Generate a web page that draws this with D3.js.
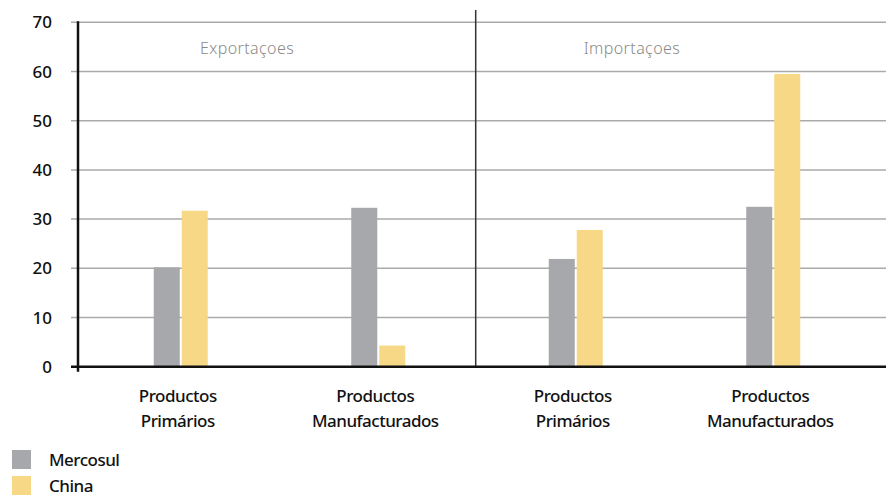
<!DOCTYPE html>
<html>
<head>
<meta charset="utf-8">
<script src="https://cdn.jsdelivr.net/npm/d3@7"></script>
<style>
  html, body { margin: 0; padding: 0; background: #fff; }
  svg { display: block; }
  text { font-family: "Noto Sans", "Open Sans", sans-serif; }
</style>
</head>
<body>
<svg id="chart" width="886" height="496"></svg>
<script>
// Trade composition: Mercosul vs China, exports and imports
const categories = [
  ["Productos", "Primários"],
  ["Productos", "Manufacturados"],
  ["Productos", "Primários"],
  ["Productos", "Manufacturados"]
];
const panels = ["Exportaçoes", "Importaçoes"];
const seriesNames = ["Mercosul", "China"];
const mercosul = [20.2, 32.3, 21.9, 32.5];
const china = [31.7, 4.3, 27.8, 59.5];
const yTicks = [0, 10, 20, 30, 40, 50, 60, 70];
const colors = ["#a7a8ab", "#f6d886"];

const svg = d3.select("#chart");
const axisX = 78, plotRight = 886, yTop = 22.3, yBottom = 366.7;

const y = d3.scaleLinear().domain([0, 70]).range([yBottom, yTop]);
const x = d3.scaleBand().domain(d3.range(categories.length)).range([82, 872]).padding(0);
const xs = d3.scaleBand().domain([0, 1]).range([-27, 27]).paddingInner(0.07);

// Gridlines
svg.append("g")
  .selectAll("line")
  .data(yTicks.filter(d => d > 0))
  .join("line")
  .attr("x1", 71).attr("x2", plotRight)
  .attr("y1", d => y(d)).attr("y2", d => y(d))
  .attr("stroke", "#aaaaab").attr("stroke-width", 1.5);

// Y tick labels
svg.append("g")
  .selectAll("text")
  .data(yTicks)
  .join("text")
  .attr("x", 52)
  .attr("y", d => y(d))
  .attr("dy", "0.36em")
  .attr("text-anchor", "end")
  .attr("font-size", 17)
  .attr("font-weight", 500)
  .attr("fill", "#111")
  .text(d => d);

// Bars
const rows = categories.map((c, i) => [mercosul[i], china[i]]);
const groups = svg.append("g")
  .selectAll("g")
  .data(rows)
  .join("g")
  .attr("transform", (d, i) => `translate(${x(i) + x.bandwidth() / 2},0)`);
groups.selectAll("rect")
  .data(d => d.map((v, k) => ({ v, k })))
  .join("rect")
  .attr("x", d => xs(d.k))
  .attr("width", xs.bandwidth())
  .attr("y", d => y(d.v))
  .attr("height", d => y(0) - y(d.v))
  .attr("fill", d => colors[d.k]);

// Panel divider between exports and imports
const divX = x(2) - 1.3;
svg.append("line")
  .attr("x1", divX).attr("x2", divX)
  .attr("y1", 10).attr("y2", yBottom)
  .attr("stroke", "#333").attr("stroke-width", 1.5);

// Axes
svg.append("line")
  .attr("x1", 71).attr("x2", plotRight)
  .attr("y1", yBottom).attr("y2", yBottom)
  .attr("stroke", "#111").attr("stroke-width", 2.5);
svg.append("line")
  .attr("x1", axisX).attr("x2", axisX)
  .attr("y1", yTop - 1).attr("y2", yBottom + 5)
  .attr("stroke", "#111").attr("stroke-width", 2.5);

// Panel titles
const panelX = [200, divX + 108];
svg.append("g")
  .selectAll("text")
  .data(panels)
  .join("text")
  .attr("x", (d, i) => panelX[i])
  .attr("y", 54)
  .attr("font-size", 16)
  .attr("font-weight", 300)
  .attr("letter-spacing", 0.4)
  .attr("fill", "#8a8a8a")
  .text(d => d);

// Category labels
const catG = svg.append("g")
  .selectAll("text")
  .data(categories)
  .join("text")
  .attr("text-anchor", "middle")
  .attr("font-size", 17)
  .attr("font-weight", 500)
  .attr("letter-spacing", -0.5)
  .attr("fill", "#111")
  .attr("transform", (d, i) => `translate(${x(i) + x.bandwidth() / 2 - 3},0)`);
catG.selectAll("tspan")
  .data(d => d)
  .join("tspan")
  .attr("x", 0)
  .attr("y", (d, j) => 401.5 + j * 25)
  .text(d => d);

// Legend
const leg = svg.append("g")
  .selectAll("g")
  .data(seriesNames)
  .join("g")
  .attr("transform", (d, i) => `translate(12,${450 + i * 26})`);
leg.append("rect")
  .attr("width", 19).attr("height", 19)
  .attr("fill", (d, i) => colors[i]);
leg.append("text")
  .attr("x", 37).attr("y", 10)
  .attr("dy", "0.36em")
  .attr("font-size", 17)
  .attr("font-weight", 500)
  .attr("letter-spacing", -0.5)
  .attr("fill", "#111")
  .text(d => d);
</script>
</body>
</html>
